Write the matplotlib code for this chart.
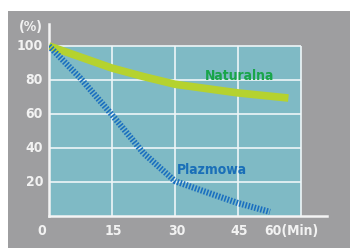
import matplotlib
matplotlib.use("Agg")
import matplotlib.pyplot as plt
from matplotlib.patches import Rectangle

# values
time_nat = [0, 7.5, 15, 22.5, 30, 45, 57]
naturalna = [100, 93.5, 87, 82, 77.5, 72.4, 69.4]
time_plaz = [0, 7.5, 15, 22.5, 30, 37.5, 45, 52.6]
plazmowa = [100, 81, 59.5, 37, 20.5, 14, 7.6, 2.4]

x_ticks = [0, 15, 30, 45, 60]
x_labels = ['0', '15', '30', '45', '60(Min)']
y_ticks = [20, 40, 60, 80, 100]

plt.rcParams['font.family'] = ['DejaVu Sans']
plt.rcParams['font.stretch'] = 'condensed'

fig = plt.figure(figsize=(3.5, 2.48), dpi=100, facecolor='white')
# grey panel behind everything
fig.patches.append(Rectangle((8 / 350, 0), 1, 1 - 11 / 248, transform=fig.transFigure,
                             facecolor='#9e9ea0', edgecolor='none', zorder=-10))

x_max = (327 - 49) / 4.2
y_max = (216 - 24) / 1.7
ax = fig.add_axes([49 / 350, 32 / 248, (327 - 49) / 350, (216 - 24) / 248])
ax.set_zorder(5)
ax.set_facecolor('none')
ax.set_xlim(0, x_max)
ax.set_ylim(0, y_max)

# teal plot area
ax.add_patch(Rectangle((0, 0), 60, 100, facecolor='#7fbac5', edgecolor='none', zorder=0))
ax.hlines(y_ticks, 0, 60, colors='#eef6f8', lw=1.2, zorder=1)
ax.vlines(x_ticks[1:], 0, 100, colors='#eef6f8', lw=1.2, zorder=1)

for s in ['top', 'right']:
    ax.spines[s].set_visible(False)
for s in ['left', 'bottom']:
    ax.spines[s].set_color('#f4f4f4')
    ax.spines[s].set_linewidth(1.8)
ax.set_xticks([])
ax.set_yticks([])

# curves
ax.plot(time_nat, naturalna, color='#b5d22f', lw=5.5, solid_capstyle='butt',
        solid_joinstyle='round', zorder=3)
ax.plot(time_plaz, plazmowa, color='#1a6fc0', lw=4.5, dashes=(0.26, 0.24),
        dash_capstyle='butt', zorder=3)

txt = dict(color='#f2f2f2', fontsize=10, fontweight='bold')
x_shift = [-1.7, 0.2, 0.4, 0.4, -2.2]
for xv, lab, dx in zip(x_ticks, x_labels, x_shift):
    ax.text(xv + dx, -9, lab, ha='center', va='center', **txt)
for yv in y_ticks:
    ax.text(-1.4, yv, str(yv), ha='right', va='center', **txt)
ax.text(-1.4, 111, '(%)', ha='right', va='center', **txt)

ax.text(45.4, 82.4, 'Naturalna', color='#19a54a', fontsize=10, fontweight='bold',
        ha='center', va='center', zorder=4)
ax.text(38.7, 27, 'Plazmowa', color='#1a6fb8', fontsize=10, fontweight='bold',
        ha='center', va='center', zorder=4)

fig.savefig('out.png', dpi=100)
